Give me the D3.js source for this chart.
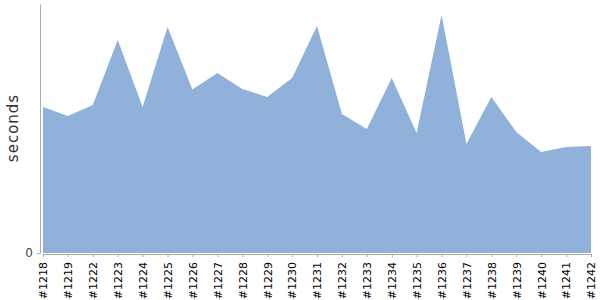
<!DOCTYPE html>
<html>
<head>
<meta charset="utf-8">
<title></title>
<style>
  body { margin: 0; background: #fff; }
</style>
</head>
<body>
<svg id="chart" width="600" height="300"></svg>

<script src="https://d3js.org/d3.v7.min.js"></script>
<script>
// build labels and their run times
const builds = ["#1218", "#1219", "#1222", "#1223", "#1224", "#1225", "#1226", "#1227",
  "#1228", "#1229", "#1230", "#1231", "#1232", "#1233", "#1234", "#1235", "#1236",
  "#1237", "#1238", "#1239", "#1240", "#1241", "#1242"];
const seconds = [58.6, 55.0, 59.4, 85.5, 58.6, 90.8, 65.7, 72.3, 65.9, 62.7, 70.3, 91.2,
  55.8, 49.8, 70.3, 48.2, 95.6, 43.8, 62.7, 48.6, 40.6, 42.6, 43.0];
const yTicks = [0];

const font = "'DejaVu Sans', Verdana, sans-serif";
const svg = d3.select("#chart");

const x = d3.scalePoint()
    .domain(builds)
    .range([43, 591]);

const y = d3.scaleLinear()
    .domain([0, 100])
    .range([253, 4]);

const data = builds.map((b, i) => ({build: b, value: seconds[i]}));

const area = d3.area()
    .x(d => x(d.build))
    .y0(y(0))
    .y1(d => y(d.value));

svg.append("path")
    .datum(data)
    .attr("fill", "#8fb1da")
    .attr("d", area);

// x axis
const xAxis = svg.append("g")
    .attr("transform", "translate(0,254)")
    .call(d3.axisBottom(x).tickSize(3).tickSizeOuter(0));
xAxis.select(".domain").attr("stroke", "#aaa");
xAxis.selectAll(".tick line").attr("stroke", "#aaa");
xAxis.selectAll("text")
    .attr("fill", "#000")
    .style("font-family", font)
    .style("font-size", "11px")
    .attr("transform", "rotate(-90)")
    .attr("text-anchor", "end")
    .attr("x", -8)
    .attr("y", 0)
    .attr("dy", "0.35em");

// y axis
const yAxis = svg.append("g")
    .attr("transform", "translate(40,0)")
    .call(d3.axisLeft(y).tickValues(yTicks).tickSize(3).tickSizeOuter(0));
yAxis.select(".domain").attr("stroke", "#aaa");
yAxis.selectAll(".tick line").attr("stroke", "#aaa");
yAxis.selectAll("text")
    .attr("fill", "#444")
    .style("font-family", font)
    .style("font-size", "12px")
    .attr("x", -7);

svg.append("text")
    .attr("transform", "translate(18,128) rotate(-90)")
    .attr("text-anchor", "middle")
    .attr("fill", "#333")
    .style("font-family", font)
    .style("font-size", "15px")
    .style("letter-spacing", "1px")
    .text("seconds");
</script>
</body>
</html>
